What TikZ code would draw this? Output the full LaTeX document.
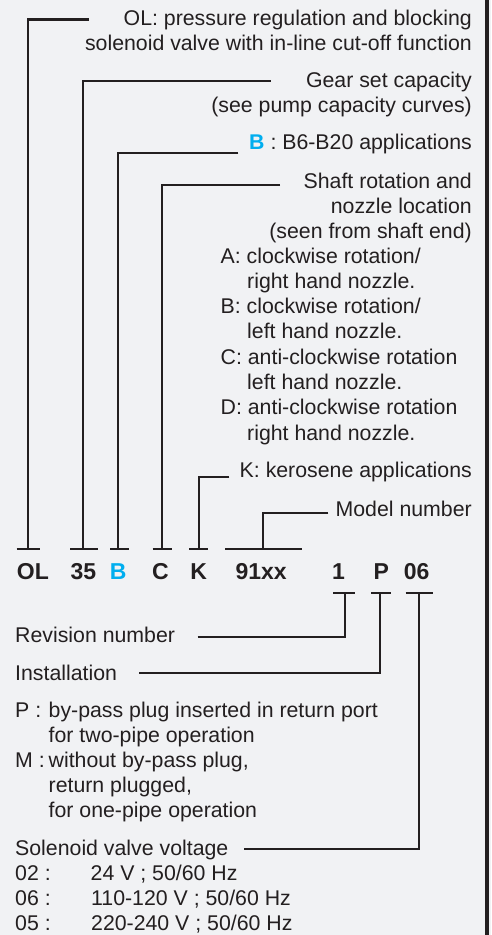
\documentclass[tikz,border=0pt]{standalone}
\usepackage{fontspec}
\setmainfont{Liberation Sans}
\definecolor{ink}{HTML}{231F20}
\definecolor{bgc}{HTML}{F1F2F4}
\definecolor{bblue}{HTML}{00AEEF}
\tikzset{
  x=1pt, y=-1pt,
  txt/.style={inner sep=0pt, text=ink, font=\fontsize{21.3}{25}\selectfont},
  lblR/.style={txt, anchor=base east},
  lblL/.style={txt, anchor=base west},
  code/.style={inner sep=0pt, text=ink, anchor=base, font=\bfseries\fontsize{23}{25}\selectfont},
  con/.style={draw=ink, line width=2.3pt},
}
\begin{document}
\begin{tikzpicture}
\fill[bgc] (0,0) rectangle (491,935);
\useasboundingbox (0,0) rectangle (491,935);
\fill[ink] (485,0) rectangle (488.5,935);

% upper labels
\node[lblR] (t1a) at (472,25) {OL: pressure regulation and blocking};
\node[lblR] (t1b) at (472,50) {solenoid valve with in-line cut-off function};
\node[lblR] (t2a) at (472,87) {Gear set capacity};
\node[lblR] (t2b) at (472,112) {(see pump capacity curves)};
\node[lblR] (t3) at (472,149) {{\bfseries\color{bblue}B} : B6-B20 applications};
\node[lblR] (t4a) at (472,188) {Shaft rotation and};
\node[lblR] (t4b) at (472,213) {nozzle location};
\node[lblR] (t4c) at (472,238) {(seen from shaft end)};
\node[lblL] (la1) at (220.5,263) {A: clockwise rotation/};
\node[lblL] (la2) at (247,288) {right hand nozzle.};
\node[lblL] (lb1) at (220.5,313) {B: clockwise rotation/};
\node[lblL] (lb2) at (247,338) {left hand nozzle.};
\node[lblL] (lc1) at (220.5,364) {C: anti-clockwise rotation};
\node[lblL] (lc2) at (247,389) {left hand nozzle.};
\node[lblL] (ld1) at (220.5,414) {D: anti-clockwise rotation};
\node[lblL] (ld2) at (247,440) {right hand nozzle.};
\node[lblR] (t5) at (472,477) {K: kerosene applications};
\node[lblR] (t6) at (472,516) {Model number};

% code row
\node[code] (cOL) at (32.9,579) {OL};
\node[code] (c35) at (83.3,579) {35};
\node[code, text=bblue] (cB) at (118.3,579) {B};
\node[code] (cC) at (160.5,579) {C};
\node[code] (cK) at (198.6,579) {K};
\node[code] (c91) at (261.2,579) {91xx};
\node[code] (c1) at (338.5,579) {1};
\node[code] (cP) at (381.3,579) {P};
\node[code] (c06) at (416.7,579) {06};

% lower labels
\node[lblL] (rev) at (15,642) {Revision number};
\node[lblL] (inst) at (15,680) {Installation};
\node[lblL] (p1) at (15,717) {\makebox[33.5pt][l]{P :}by-pass plug inserted in return port};
\node[lblL] (p2) at (48.5,742) {for two-pipe operation};
\node[lblL] (m1) at (15,767) {\makebox[33.5pt][l]{M :}without by-pass plug,};
\node[lblL] (m2) at (48.5,792) {return plugged,};
\node[lblL] (m3) at (48.5,817) {for one-pipe operation};
\node[lblL] (sv) at (15,855) {Solenoid valve voltage};
\node[lblL] (v02) at (15,880) {\makebox[75.5pt][l]{02 :}24 V ; 50/60 Hz};
\node[lblL] (v06) at (15,905) {\makebox[76pt][l]{06 :}110-120 V ; 50/60 Hz};
\node[lblL] (v05) at (15,930) {\makebox[76pt][l]{05 :}220-240 V ; 50/60 Hz};

% connector coordinates
\coordinate (e1) at (89,19.5);   \coordinate (b1) at (28.3,549);
\coordinate (e2) at (270.7,81);  \coordinate (b2) at (82.7,549);
\coordinate (e3) at (238.3,152.7); \coordinate (b3) at (118.3,549);
\coordinate (e4) at (280,185);   \coordinate (b4) at (161.7,549);
\coordinate (e5) at (229.3,476.7); \coordinate (b5) at (198.7,549);
\coordinate (e6) at (328.3,513); \coordinate (b6) at (263.3,549);
\coordinate (e7) at (197.7,637.3); \coordinate (b7) at (345,592.7);
\coordinate (e8) at (139.3,673.3); \coordinate (b8) at (380,592.7);
\coordinate (e9) at (244.3,849.3); \coordinate (b9) at (419.3,592.7);

\draw[con] (e1) -| (b1);
\draw[con] (e2) -| (b2);
\draw[con] (e3) -| (b3);
\draw[con] (e4) -| (b4);
\draw[con] (e5) -| (b5);
\draw[con] (e6) -| (b6);
\draw[con] (e7) -| (b7);
\draw[con] (e8) -| (b8);
\draw[con] (e9) -| (b9);

% T bars
\draw[con] (16.7,549) -- (40,549);
\draw[con] (70,549) -- (97.7,549);
\draw[con] (110,549) -- (129,549);
\draw[con] (152.7,549) -- (171.7,549);
\draw[con] (189,549) -- (208,549);
\draw[con] (225.3,549) -- (301.7,549);
\draw[con] (333.3,592.7) -- (355,592.7);
\draw[con] (371,592.7) -- (391,592.7);
\draw[con] (405.7,592.7) -- (433.3,592.7);
\end{tikzpicture}
\end{document}
